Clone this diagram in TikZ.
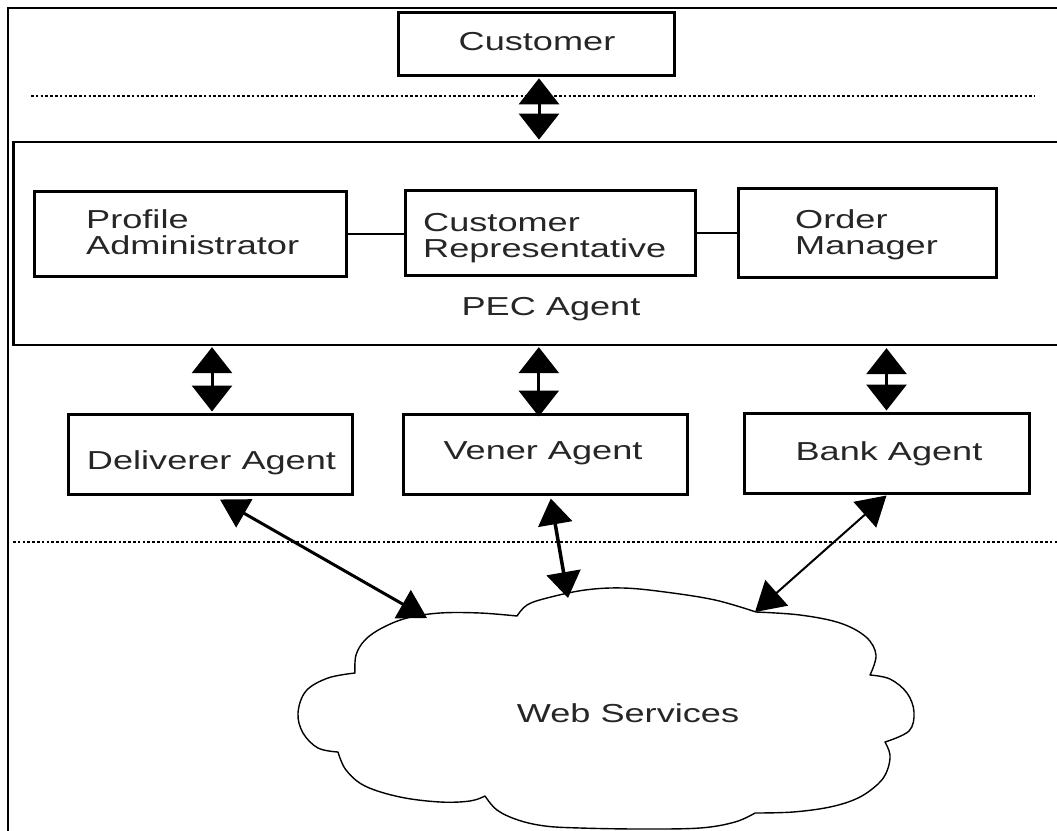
\documentclass[tikz,border=0pt]{standalone}
\usepackage{fontspec}
\setmainfont{Liberation Sans}[FakeStretch=1.39]
\usetikzlibrary{arrows.meta,calc}
\begin{document}
\begin{tikzpicture}[x=1pt,y=-1pt,
  box/.style={draw, line width=3pt, inner sep=0pt},
  lbl/.style={inner sep=0pt, text=black!85, font=\fontsize{26}{26}\selectfont},
  dbl/.style={line width=3pt, >={Triangle[width=40pt,length=26pt]}, <->},
  diag/.style={line width=3pt, >={Triangle[width=32pt,length=28pt]}, <->},
  sep/.style={line width=2.6pt, dash pattern=on 2.6pt off 2.2pt},
  frame/.style={line width=2pt},
  cloudline/.style={line width=1.4pt, line join=round}
]
\useasboundingbox (0,0) rectangle (1057,830);
\clip (0,0) rectangle (1057,830);

% outer frame (top and left only)
\draw[frame] (1057,8) -- (7.5,8) -- (7.5,831);

% separators
\draw[sep] (31,96) -- (1035,96);
\draw[sep] (13,542) -- (1057,542);

% boxes
\node[box, minimum width=276pt, minimum height=63pt] (cust) at (536,44.3) {};
\node[box, line width=2.5pt, minimum width=1052pt, minimum height=203pt] (pec) at (539.4,243.4) {};
\node[box, minimum width=312pt, minimum height=85pt] (pa) at (190,234.3) {};
\node[box, minimum width=290pt, minimum height=85pt] (cr) at (550.5,233.3) {};
\node[box, minimum width=258pt, minimum height=89pt] (om) at (867.8,232.5) {};
\node[box, minimum width=284pt, minimum height=80pt] (del) at (210,454) {};
\node[box, minimum width=284pt, minimum height=80pt] (ven) at (545.8,454) {};
\node[box, minimum width=285pt, minimum height=80pt] (bank) at (886.5,453) {};

% labels
\node[lbl, anchor=base] (custT) at (537,50) {Customer};
\node[lbl, anchor=north west, align=left] (paT) at (86,209) {Profile\\Administrator};
\node[lbl, anchor=north west, align=left] (crT) at (423,213) {Customer\\Representative};
\node[lbl, anchor=north west, align=left] (omT) at (795,209) {Order\\Manager};
\node[lbl, anchor=base] (pecT) at (551,315) {PEC Agent};
\node[lbl, anchor=base] (delT) at (211.5,469) {Deliverer Agent};
\node[lbl, anchor=base] (venT) at (543,459) {Vener Agent};
\node[lbl, anchor=base] (bankT) at (889,460) {Bank Agent};
\node[lbl, anchor=base] (ws) at (628,722) {Web Services};

% cloud
\draw[cloudline]
  plot[smooth, tension=0.6] coordinates {(355,673) (356,655) (365,640) (382,628) (407,618) (440,613) (480,613) (517,616)}
  -- plot[smooth, tension=0.6] coordinates {(517,616) (527,605) (547,598) (585,590) (623,588) (665,592) (715,600) (756,612)}
  -- plot[smooth, tension=0.6] coordinates {(756,612) (800,615) (840,623) (866,637) (876,655) (870,675)}
  -- plot[smooth, tension=0.6] coordinates {(870,675) (890,679) (907,693) (914,712) (909,731) (885,742)}
  -- plot[smooth, tension=0.6] coordinates {(885,742) (890,755) (887,771) (878,784) (858,798) (830,807) (793,812) (755,813)}
  -- plot[smooth, tension=0.6] coordinates {(755,813) (735,822) (700,828) (640,829) (580,828) (545,826) (518,820) (497,810) (485,796)}
  -- plot[smooth, tension=0.6] coordinates {(485,796) (470,801) (440,802) (400,797) (365,786) (346,770) (338,752)}
  -- plot[smooth, tension=0.6] coordinates {(338,752) (318,748) (303,733) (298,713) (306,691) (328,678) (355,673)}
  -- cycle;

\coordinate (wsA) at (427,618);
\coordinate (wsB) at (568,598);
\coordinate (wsC) at (755,612);

% connectors inside PEC
\draw[line width=2pt] (pa.east) -- (pa.east -| cr.west);
\draw[line width=2pt] (cr.east) -- (cr.east -| om.west);

% vertical double arrows
\draw[dbl] ($(cust.south)+(3,1)$) -- ($(cust.south |- pec.north)+(3,-1)$);
\draw[dbl] ($(del.north |- pec.south)+(2,1)$) -- ($(del.north)+(2,-1)$);
\draw[dbl] ($(ven.north |- pec.south)+(-7,1)$) -- ($(ven.north)+(-7,4)$);
\draw[dbl] ($(bank.north |- pec.south)+(0,2)$) -- ($(bank.north)+(0,-1)$);

% diagonal arrows to the cloud
\draw[diag] ($(del.south)+(10,4)$) -- (wsA);
\draw[line width=3.5pt, >={Triangle[width=34pt,length=26pt]}, <->] ($(ven.south)+(5,3)$) -- (wsB);
\draw[line width=2pt, >={Triangle[width=34pt,length=29pt]}, <->] ($(bank.south)+(0,1)$) -- (wsC);
\end{tikzpicture}
\end{document}
